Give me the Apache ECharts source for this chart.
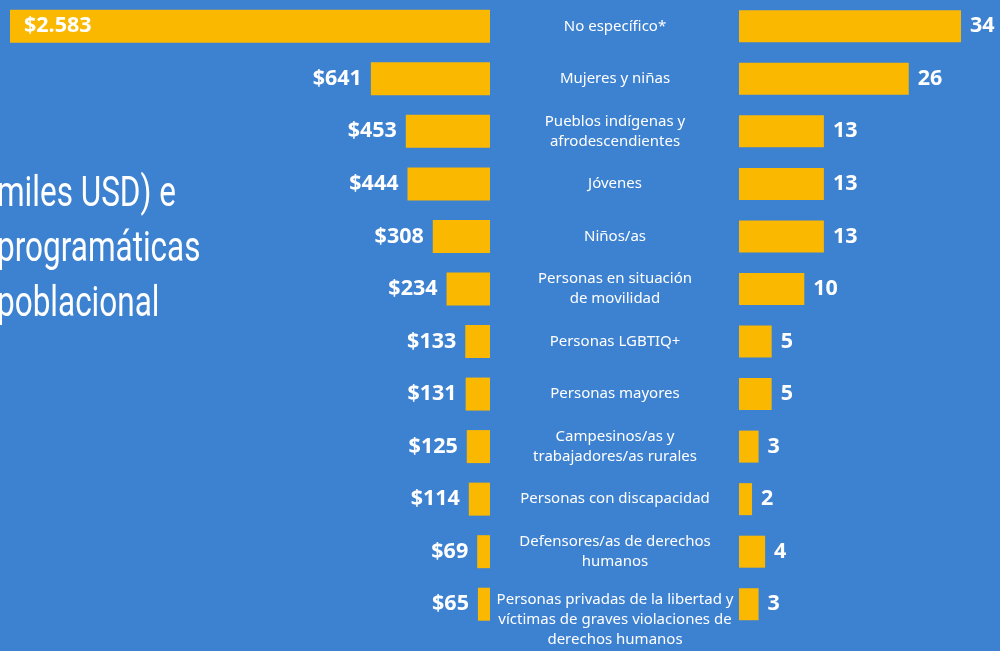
<!DOCTYPE html>
<html>
<head>
<meta charset="utf-8">
<script src="https://cdn.jsdelivr.net/npm/echarts@6/dist/echarts.min.js"></script>
<style>
  html, body { margin: 0; padding: 0; background: #3d81d1; }
  #chart { width: 1000px; height: 651px; }
</style>
</head>
<body>
<div id="chart"></div>
<script>
// Grupos poblacionales (de arriba hacia abajo)
const categorias = [
  'No específico*',
  'Mujeres y niñas',
  'Pueblos indígenas y\nafrodescendientes',
  'Jóvenes',
  'Niños/as',
  'Personas en situación\nde movilidad',
  'Personas LGBTIQ+',
  'Personas mayores',
  'Campesinos/as y\ntrabajadores/as rurales',
  'Personas con discapacidad',
  'Defensores/as de derechos\nhumanos',
  'Personas privadas de la libertad y\nvíctimas de graves violaciones de\nderechos humanos'
];
// Monto (miles USD)
const montos = [2583, 641, 453, 444, 308, 234, 133, 131, 125, 114, 69, 65];
// Número de intervenciones programáticas
const intervenciones = [34, 26, 13, 13, 13, 10, 5, 5, 3, 2, 4, 3];
// Líneas del título (recortado a la izquierda)
const tituloLineas = ['miles USD) e', 'programáticas', 'poblacional'];

const AMARILLO = '#fbb800';
const BLANCO = '#ffffff';
const FONDO = '#3d81d1';
const fuenteValor = { fontFamily: 'Open Sans', fontWeight: 'bold', fontSize: 21.5, color: BLANCO };

const fmtMonto = v => '$' + String(v).replace(/\B(?=(\d{3})+(?!\d))/g, '.');
const ultimaCategoria = categorias[categorias.length - 1];

const chart = echarts.init(document.getElementById('chart'), null, { renderer: 'canvas' });

const gridTop = 0;
const gridHeight = 630.5;

chart.setOption({
  backgroundColor: FONDO,
  animation: false,
  grid: [
    { left: 10, width: 480, top: gridTop, height: gridHeight },
    { left: 739, width: 222, top: gridTop, height: gridHeight }
  ],
  xAxis: [
    { gridIndex: 0, type: 'value', min: 0, max: 2583, inverse: true, show: false },
    { gridIndex: 1, type: 'value', min: 0, max: 34, show: false }
  ],
  yAxis: [
    { gridIndex: 0, type: 'category', data: categorias, inverse: true, show: false },
    {
      gridIndex: 1, type: 'category', inverse: true, position: 'left',
      data: categorias,
      axisLine: { show: false }, axisTick: { show: false },
      axisLabel: {
        interval: 0, hideOverlap: false,
        margin: 124, align: 'center', color: BLANCO,
        fontFamily: 'Noto Sans', fontSize: 15, lineHeight: 20,
        // the three-line label hangs a little below its bar
        formatter: v => v === ultimaCategoria ? '{pad|}\n' + v : v,
        rich: { pad: { height: 32, lineHeight: 32 } }
      }
    }
  ],
  series: [
    {
      type: 'bar', xAxisIndex: 0, yAxisIndex: 0, barWidth: 33,
      itemStyle: { color: AMARILLO },
      data: montos.map((v, i) => i === 0
        ? { value: v, label: { position: 'insideLeft', distance: 14 } }
        : v),
      label: {
        show: true, position: 'left', distance: 9,
        formatter: p => fmtMonto(p.value), ...fuenteValor
      }
    },
    {
      type: 'bar', xAxisIndex: 1, yAxisIndex: 1, barWidth: 32,
      itemStyle: { color: AMARILLO },
      data: intervenciones,
      label: { show: true, position: 'right', distance: 9, ...fuenteValor }
    }
  ],
  graphic: tituloLineas.map((t, i) => ({
    type: 'text', x: -3, y: 174 + i * 55, scaleX: 0.75,
    style: {
      text: t, fill: BLANCO,
      font: '400 42px Roboto, sans-serif'
    }
  }))
});
</script>
</body>
</html>
